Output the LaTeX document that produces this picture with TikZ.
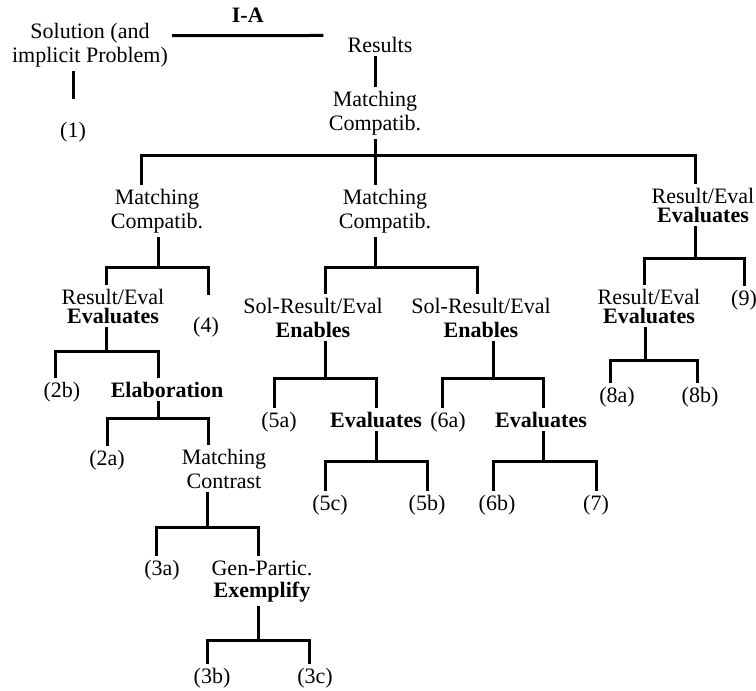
\documentclass[tikz,border=0pt]{standalone}
\usepackage{fontspec}
\setmainfont{Liberation Serif}
\tikzset{
  txt/.style={font=\fontsize{22}{24}\selectfont, inner sep=4pt, align=center},
  lbl/.style={txt, anchor=base},
  link/.style={line width=3pt}
}
\begin{document}
\begin{tikzpicture}[x=1pt,y=-1pt]
      \useasboundingbox (0,0) rectangle (756,691);
      \node[lbl] (sol) at (90,62) {Solution (and\\implicit Problem)};
      \node[lbl] (n1) at (73,137) {(1)};
      \node[lbl] (res) at (380,52) {Results};
      \node[lbl] (mc0) at (375,130) {Matching\\Compatib.};
      \node[lbl] (mcL) at (157,228) {Matching\\Compatib.};
      \node[lbl] (mcM) at (385,228) {Matching\\Compatib.};
      \node[lbl] (rvR) at (703,222) {Result/Eval\\[-5pt]\textbf{Evaluates}};
      \node[lbl] (rvL) at (113,323) {Result/Eval\\[-5pt]\textbf{Evaluates}};
      \node[lbl] (n4) at (206,332) {(4)};
      \node[lbl] (n2b) at (62,397) {(2b)};
      \node[lbl] (elab) at (167,397) {\textbf{Elaboration}};
      \node[lbl] (n2a) at (107,465) {(2a)};
      \node[lbl] (mct) at (224,488) {Matching\\Contrast};
      \node[lbl] (n3a) at (162,575) {(3a)};
      \node[lbl] (gp) at (262,597) {Gen-Partic.\\[-2pt]\textbf{Exemplify}};
      \node[lbl] (n3b) at (212,683) {(3b)};
      \node[lbl] (n3c) at (315,683) {(3c)};
      \node[lbl] (sreL) at (313,337) {Sol-Result/Eval\\\textbf{Enables}};
      \node[lbl] (sreR) at (481,337) {Sol-Result/Eval\\\textbf{Enables}};
      \node[lbl] (n5a) at (279,427) {(5a)};
      \node[lbl] (ev5) at (376,427) {\textbf{Evaluates}};
      \node[lbl] (n5c) at (330,510) {(5c)};
      \node[lbl] (n5b) at (427,510) {(5b)};
      \node[lbl] (n6a) at (448,427) {(6a)};
      \node[lbl] (ev6) at (541,427) {\textbf{Evaluates}};
      \node[lbl] (n6b) at (497,510) {(6b)};
      \node[lbl] (n7) at (596,510) {(7)};
      \node[lbl] (rv2) at (649,323) {Result/Eval\\[-5pt]\textbf{Evaluates}};
      \node[lbl] (n9) at (744,305) {(9)};
      \node[lbl] (n8a) at (617,402) {(8a)};
      \node[lbl] (n8b) at (700,402) {(8b)};
      \coordinate (b0) at (375,155);
      \coordinate (b1) at (158,267);
      \coordinate (b2) at (106,351);
      \coordinate (b3) at (158,418);
      \coordinate (b4) at (207,527);
      \coordinate (b5) at (258,640);
      \coordinate (b6) at (375,267);
      \coordinate (b7) at (325,378);
      \coordinate (b8) at (376,461);
      \coordinate (b9) at (493,378);
      \coordinate (b10) at (543,461);
      \coordinate (b11) at (695,258);
      \coordinate (b12) at (645,360);
      \begin{scope}[link]
        \draw ([yshift=9]sol.east) -- ([xshift=-20,yshift=9]res.west)
          node[midway, above=8pt, txt, font=\fontsize{22}{24}\selectfont\bfseries] (ia) {I-A};
        \draw ([yshift=19]n1.north) -- (n1.north |- sol.south);
        \draw (res.south -| mc0.north) -- (mc0.north);
        \draw (mc0.south) -- (b0);
        \draw ([xshift=-16]mcL.north) |- (b0) -| ([xshift=-8]rvR.north);
        \draw (b0) -- (b0 |- mcM.north);
        \draw (mcL.south -| b1) -- (b1);
        \draw ([xshift=-7]rvL.north) |- (b1) -| ([xshift=2,yshift=18]n4.north);
        \draw (rvL.south -| b2) -- (b2);
        \draw ([xshift=-7]n2b.north) |- (b2) -| ([xshift=-9]elab.north);
        \draw (elab.south -| b3) -- (b3);
        \draw (n2a.north) |- (b3) -| ([xshift=-16]mct.north);
        \draw (mct.south -| b4) -- (b4);
        \draw ([xshift=-6]n3a.north) |- (b4) -| ([xshift=-4]gp.north);
        \draw (gp.south -| b5) -- (b5);
        \draw ([xshift=-5]n3b.north) |- (b5) -| ([xshift=-6]n3c.north);
        \draw (mcM.south -| b6) -- (b6);
        \draw ([xshift=12]sreL.north) |- (b6) -| ([xshift=-4]sreR.north);
        \draw (sreL.south -| b7) -- (b7);
        \draw ([xshift=-5]n5a.north) |- (b7) -| (ev5.north);
        \draw (ev5.south) -- (b8);
        \draw ([xshift=-5]n5c.north) |- (b8) -| (n5b.north);
        \draw (sreR.south -| b9) -- (b9);
        \draw ([xshift=-6]n6a.north) |- (b9) -| ([xshift=2]ev6.north);
        \draw (ev6.south -| b10) -- (b10);
        \draw ([xshift=-4]n6b.north) |- (b10) -| (n7.north);
        \draw (rvR.south -| b11) -- (b11);
        \draw ([xshift=-5]rv2.north) |- (b11) -| (n9.north);
        \draw (rv2.south -| b12) -- (b12);
        \draw ([xshift=-7]n8a.north) |- (b12) -| ([xshift=-3]n8b.north);
      \end{scope}
    \end{tikzpicture}
\end{document}
